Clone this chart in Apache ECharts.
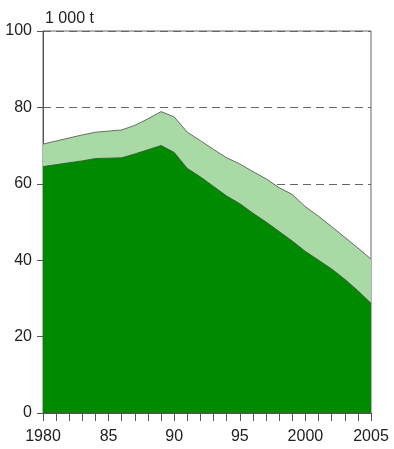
<!DOCTYPE html>
<html>
<head>
<meta charset="utf-8">
<script src="https://cdn.jsdelivr.net/npm/echarts@6/dist/echarts.min.js"></script>
<style>html,body{margin:0;padding:0;background:#fff}#c{width:394px;height:449px}</style>
</head>
<body>
<div id="c"></div>
<script>
var years = [1980,1981,1982,1983,1984,1985,1986,1987,1988,1989,1990,1991,1992,1993,1994,1995,1996,1997,1998,1999,2000,2001,2002,2003,2004,2005];
var totalValues = [70.4,71.2,72.0,72.8,73.5,73.8,74.1,75.3,77.0,78.9,77.5,73.5,71.3,69.0,66.8,65.2,63.2,61.3,59.0,57.2,54.0,51.5,48.8,46.0,43.2,40.3];
var lowerValues = [64.5,65.0,65.5,66.0,66.6,66.7,66.8,67.8,68.9,70.0,68.2,64.0,61.8,59.3,56.8,54.8,52.3,50.0,47.5,45.0,42.3,40.0,37.7,35.0,32.0,28.7];
var unitLabel = '1 000 t';

function pairs(vals){ return years.map(function(y,i){ return [y, vals[i]]; }); }

var chart = echarts.init(document.getElementById('c'), null, {renderer:'canvas'});
var font = 'Liberation Sans, Arial, sans-serif';
chart.setOption({
  animation: false,
  backgroundColor: '#fff',
  grid: {left: 43, right: 23, top: 31, bottom: 36, show: true, borderColor: '#666', borderWidth: 1, backgroundColor: 'transparent'},
  graphic: [{type:'text', left: 45, top: 11, style:{text: unitLabel, font: '16px ' + font, fill:'#222'}}],
  xAxis: {
    type: 'value', min: 1980, max: 2005, interval: 1,
    axisLine: {show: true, lineStyle: {color: '#555', width: 1}},
    axisTick: {show: true, length: 8, lineStyle: {color: '#555'}},
    axisLabel: {margin: 16, fontSize: 16, fontFamily: font, color: '#222',
      formatter: function(v){ return v % 5 === 0 ? (v === 1980 || v >= 2000 ? String(v) : String(v).slice(2)) : ''; }},
    splitLine: {show: false}
  },
  yAxis: {
    type: 'value', min: 0, max: 100, interval: 20,
    axisLine: {show: true, lineStyle: {color: '#555', width: 1}},
    axisTick: {show: true, length: 6, lineStyle: {color: '#555'}},
    axisLabel: {margin: 11, fontSize: 16, fontFamily: font, color: '#222'},
    splitLine: {show: true, lineStyle: {color: '#666', type: [8, 5], width: 1}}
  },
  series: [
    {type: 'line', data: pairs(totalValues), symbol: 'none', z: 2,
      lineStyle: {color: '#6a6a6a', width: 1}, areaStyle: {color: '#a9d9a5', opacity: 1}},
    {type: 'line', data: pairs(lowerValues), symbol: 'none', z: 3,
      lineStyle: {color: '#3d5a3d', width: 1}, areaStyle: {color: '#008a00', opacity: 1}}
  ]
});
</script>
</body>
</html>
